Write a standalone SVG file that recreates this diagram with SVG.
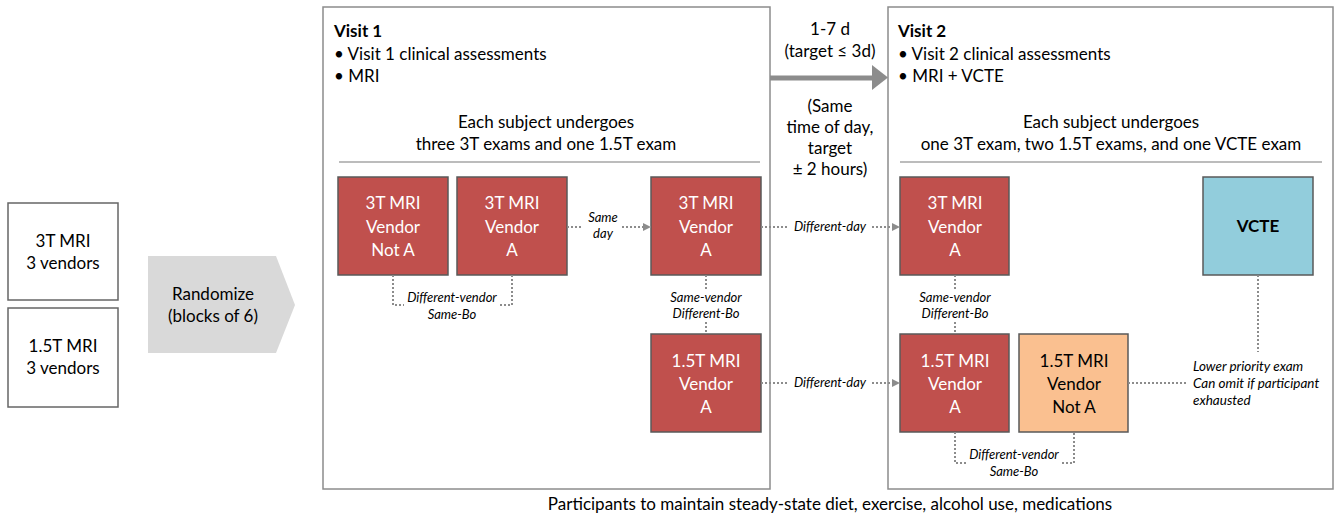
<svg xmlns="http://www.w3.org/2000/svg" width="1336" height="519" viewBox="0 0 1336 519">
<defs>
<style>
text{font-family:Lato,"Open Sans","Liberation Sans",sans-serif;fill:#000}
.box{fill:#fff;stroke:#666;stroke-width:1.5}
.visit{fill:#fff;stroke:#8c8c8c;stroke-width:1.5}
.red{fill:#c0504d;stroke:#595959;stroke-width:1.5}
.org{fill:#fac090;stroke:#595959;stroke-width:1.5}
.blue{fill:#92cddc;stroke:#595959;stroke-width:1.5}
.t{font-size:17px}
.tc{font-size:17px;text-anchor:middle}
.w{fill:#fff;font-size:17px;text-anchor:middle}
.k{font-size:17px;text-anchor:middle}
.b{font-weight:bold}
.it{font-size:13px;font-style:italic;text-anchor:middle}
.itl{font-size:13.5px;font-style:italic}
.dot{fill:none;stroke:#8c8c8c;stroke-width:2;stroke-dasharray:2 2}
.sep{stroke:#a6a6a6;stroke-width:1.5}
</style>
<marker id="ah" viewBox="0 0 10 10" refX="10" refY="5" markerWidth="8" markerHeight="10" markerUnits="userSpaceOnUse" orient="auto">
<path d="M0,0 L10,5 L0,10 Z" fill="#8c8c8c"/>
</marker>
</defs>

<g id="input-3T">
<rect class="box" x="8" y="203" width="110" height="97"/>
<text class="tc" x="63" y="247">3T MRI</text>
<text class="tc" x="63" y="269">3 vendors</text>
</g>
<g id="input-15T">
<rect class="box" x="8" y="308" width="110" height="99"/>
<text class="tc" x="63" y="352">1.5T MRI</text>
<text class="tc" x="63" y="374">3 vendors</text>
</g>
<g id="randomize">
<path d="M148,256 L276,256 L295,305 L276,353 L148,353 Z" fill="#d9d9d9"/>
<text class="tc" x="213" y="300">Randomize</text>
<text class="tc" x="213" y="322">(blocks of 6)</text>
</g>

<g id="visit1">
<rect class="visit" x="323" y="7" width="447" height="482"/>
<text class="t b" x="334" y="37">Visit 1</text>
<text class="t" x="334" y="60">• Visit 1 clinical assessments</text>
<text class="t" x="334" y="82">• MRI</text>
<text class="tc" x="546" y="128">Each subject undergoes</text>
<text class="tc" x="546" y="150">three 3T exams and one 1.5T exam</text>
<line class="sep" x1="339" y1="162" x2="760" y2="162"/>
</g>

<g id="visit2">
<rect class="visit" x="888" y="7" width="445" height="482"/>
<text class="t b" x="898" y="37">Visit 2</text>
<text class="t" x="898" y="60">• Visit 2 clinical assessments</text>
<text class="t" x="898" y="82">• MRI + VCTE</text>
<text class="tc" x="1111" y="128">Each subject undergoes</text>
<text class="tc" x="1111" y="150">one 3T exam, two 1.5T exams, and one VCTE exam</text>
<line class="sep" x1="900" y1="162" x2="1322" y2="162"/>
</g>

<g id="v1-3T-notA">
<rect class="red" x="338" y="177" width="110" height="98"/>
<text class="w" x="393" y="209">3T MRI</text>
<text class="w" x="393" y="233">Vendor</text>
<text class="w" x="393" y="256">Not A</text>
</g>
<g id="v1-3T-A1">
<rect class="red" x="457" y="177" width="110" height="98"/>
<text class="w" x="512" y="209">3T MRI</text>
<text class="w" x="512" y="233">Vendor</text>
<text class="w" x="512" y="256">A</text>
</g>
<g id="v1-3T-A2">
<rect class="red" x="651" y="177" width="110" height="98"/>
<text class="w" x="706" y="209">3T MRI</text>
<text class="w" x="706" y="233">Vendor</text>
<text class="w" x="706" y="256">A</text>
</g>
<g id="v1-15T-A">
<rect class="red" x="651" y="334" width="110" height="98"/>
<text class="w" x="706" y="367">1.5T MRI</text>
<text class="w" x="706" y="390">Vendor</text>
<text class="w" x="706" y="413">A</text>
</g>
<g id="v2-3T-A">
<rect class="red" x="900" y="177" width="109" height="98"/>
<text class="w" x="955" y="209">3T MRI</text>
<text class="w" x="955" y="233">Vendor</text>
<text class="w" x="955" y="256">A</text>
</g>
<g id="v2-VCTE">
<rect class="blue" x="1203" y="177" width="110" height="98"/>
<text class="k b" x="1258" y="232">VCTE</text>
</g>
<g id="v2-15T-A">
<rect class="red" x="900" y="334" width="109" height="98"/>
<text class="w" x="955" y="367">1.5T MRI</text>
<text class="w" x="955" y="390">Vendor</text>
<text class="w" x="955" y="413">A</text>
</g>
<g id="v2-15T-notA">
<rect class="org" x="1019" y="334" width="109" height="98"/>
<text class="k" x="1074" y="367">1.5T MRI</text>
<text class="k" x="1074" y="390">Vendor</text>
<text class="k" x="1074" y="413">Not A</text>
</g>

<g id="connectors">
<line x1="770" y1="78" x2="874" y2="78" stroke="#8c8c8c" stroke-width="5"/>
<path d="M872,65 L888,77.5 L872,90 Z" fill="#8c8c8c"/>
<text class="tc" x="830" y="35">1-7 d</text>
<text class="tc" x="830" y="57">(target ≤ 3d)</text>
<text class="tc" x="830" y="112">(Same</text>
<text class="tc" x="830" y="133">time of day,</text>
<text class="tc" x="830" y="154">target</text>
<text class="tc" x="830" y="175">± 2 hours)</text>

<line class="dot" x1="567" y1="227" x2="583" y2="227"/>
<line class="dot" x1="622" y1="227" x2="651" y2="227" marker-end="url(#ah)"/>
<text class="it" x="603" y="222">Same</text>
<text class="it" x="603" y="238">day</text>

<path class="dot" d="M393,275 V305 H404"/>
<path class="dot" d="M500,305 H512 V275"/>
<text class="it" x="452" y="302">Different-vendor</text>
<text class="it" x="452" y="319">Same-Bo</text>

<line class="dot" x1="706" y1="275" x2="706" y2="289"/>
<line class="dot" x1="706" y1="322" x2="706" y2="334"/>
<text class="it" x="706" y="302">Same-vendor</text>
<text class="it" x="706" y="318">Different-Bo</text>

<line class="dot" x1="761" y1="227" x2="788" y2="227"/>
<line class="dot" x1="872" y1="227" x2="900" y2="227" marker-end="url(#ah)"/>
<text class="it" x="830" y="231">Different-day</text>

<line class="dot" x1="761" y1="383" x2="788" y2="383"/>
<line class="dot" x1="872" y1="383" x2="900" y2="383" marker-end="url(#ah)"/>
<text class="it" x="830" y="387">Different-day</text>

<line class="dot" x1="955" y1="275" x2="955" y2="289"/>
<line class="dot" x1="955" y1="322" x2="955" y2="334"/>
<text class="it" x="955" y="302">Same-vendor</text>
<text class="it" x="955" y="318">Different-Bo</text>

<path class="dot" d="M955,432 V463 H967"/>
<path class="dot" d="M1062,463 H1074 V432"/>
<text class="it" x="1014" y="459">Different-vendor</text>
<text class="it" x="1014" y="476">Same-Bo</text>

<line class="dot" x1="1128" y1="383" x2="1188" y2="383"/>
<line class="dot" x1="1258" y1="275" x2="1258" y2="352"/>
<text class="itl" x="1193" y="371">Lower priority exam</text>
<text class="itl" x="1193" y="388">Can omit if participant</text>
<text class="itl" x="1193" y="405">exhausted</text>
</g>

<text class="tc" x="830" y="510">Participants to maintain steady-state diet, exercise, alcohol use, medications</text>
</svg>
